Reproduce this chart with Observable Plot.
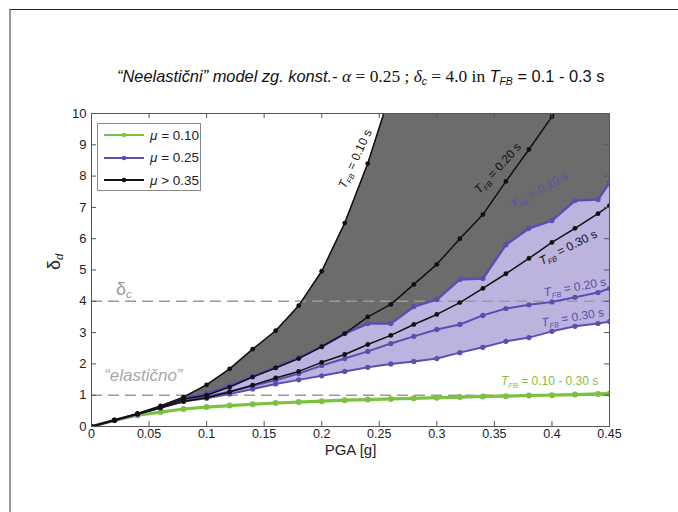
<!DOCTYPE html>
<html>
<head>
<meta charset="utf-8">
<script src="https://cdn.jsdelivr.net/npm/d3@7"></script>
<script src="https://cdn.jsdelivr.net/npm/@observablehq/plot@0.6"></script>
<style>
  body { margin: 0; background: #fff; width: 678px; height: 512px; position: relative; overflow: hidden; font-family: "Liberation Sans", Arial, sans-serif; }
  #border { position: absolute; left: 9px; top: 9px; width: 669px; height: 503px; border-top: 1.5px solid #222; border-left: 2px solid #999; box-sizing: border-box; z-index: 5; pointer-events: none; }
  #title { position: absolute; left: 117px; top: 66px; font-size: 16.4px; white-space: nowrap; color: #111; }
  #title .s { font-family: "Liberation Sans", Arial, sans-serif; }
  #title .m { font-family: "Liberation Serif", "Times New Roman", serif; font-size: 17.4px; }
  #title sub { font-size: 10.5px; font-style: italic; font-family: "Liberation Sans", Arial, sans-serif; vertical-align: -3px; }
  #chart { position: absolute; left: 0; top: 100px; }
  #legend { position: absolute; left: 97px; top: 123px; width: 104px; height: 68px; border: 1px solid #888; background: #fff; box-sizing: border-box; font-size: 13.5px; color: #222; }
  #legend .row { position: absolute; left: 6px; height: 16px; display: flex; align-items: center; }
  #legend svg { margin-right: 6px; }
</style>
</head>
<body>
<div id="border"></div>
<div id="title"><i class="s">“Neelastični” model zg. konst.-</i> <span class="m"><i>α</i> = 0.25 ; <i>δ</i></span><sub>c</sub><span class="m"> = 4.0 in </span><i class="s">T</i><sub>FB</sub><span class="s"> = 0.1 - 0.3 s</span></div>
<div id="chart"></div>
<div id="legend"></div>
<script>
const pga = [0, 0.02, 0.04, 0.06, 0.08, 0.10, 0.12, 0.14, 0.16, 0.18, 0.20, 0.22, 0.24, 0.26, 0.28, 0.30, 0.32, 0.34, 0.36, 0.38, 0.40, 0.42, 0.44, 0.45];
// mu > 0.35 (black)
const blackT10 = [0, 0.2, 0.41, 0.66, 0.94, 1.33, 1.84, 2.47, 3.06, 3.86, 4.96, 6.5, 8.4, 10.7, null, null, null, null, null, null, null, null, null, null];
const blackT20 = [0, 0.2, 0.4, 0.62, 0.88, 1.0, 1.26, 1.58, 1.87, 2.17, 2.55, 2.97, 3.5, 3.9, 4.54, 5.18, 6.0, 6.77, 7.83, 8.85, 9.9, 11.0, null, null];
const blackT30 = [0, 0.2, 0.4, 0.6, 0.8, 0.92, 1.1, 1.32, 1.55, 1.76, 2.05, 2.3, 2.62, 2.91, 3.26, 3.58, 3.96, 4.41, 4.88, 5.37, 5.88, 6.33, 6.8, 7.06];
// mu = 0.25 (purple)
const purpleT10 = [0, 0.2, 0.4, 0.62, 0.9, 1.05, 1.3, 1.6, 1.9, 2.2, 2.55, 2.97, 3.29, 3.29, 3.83, 4.06, 4.7, 4.73, 5.81, 6.33, 6.58, 7.22, 7.25, 7.8];
const purpleT20 = [0, 0.2, 0.4, 0.6, 0.84, 0.95, 1.12, 1.3, 1.48, 1.69, 1.95, 2.17, 2.4, 2.65, 2.88, 3.1, 3.26, 3.55, 3.77, 3.89, 3.98, 4.13, 4.28, 4.41];
const purpleT30 = [0, 0.2, 0.4, 0.6, 0.8, 0.9, 1.04, 1.2, 1.36, 1.49, 1.62, 1.76, 1.89, 2.0, 2.08, 2.17, 2.36, 2.53, 2.72, 2.84, 3.04, 3.2, 3.29, 3.35];
// mu = 0.10 (green), T_FB = 0.10 - 0.30 s
const green = [0, 0.2, 0.36, 0.46, 0.56, 0.62, 0.67, 0.71, 0.75, 0.78, 0.81, 0.84, 0.86, 0.88, 0.9, 0.92, 0.94, 0.96, 0.97, 0.99, 1.0, 1.02, 1.04, 1.05];

const xTicks = [0, 0.05, 0.1, 0.15, 0.2, 0.25, 0.3, 0.35, 0.4, 0.45];
const yTicks = [0, 1, 2, 3, 4, 5, 6, 7, 8, 9, 10];
const refLines = [1, 4];
const yMax = 10;

const legendItems = [
  {label: "μ = 0.10", color: "#7dc142"},
  {label: "μ = 0.25", color: "#5a4fb0"},
  {label: "μ > 0.35", color: "#111111"}
];

const curveLabels = [
  {text: "T|FB| = 0.10 s", x: 0.229, y: 8.55, rotate: -65, color: "#111"},
  {text: "T|FB| = 0.20 s", x: 0.353, y: 8.25, rotate: -48, color: "#111"},
  {text: "T|FB| = 0.10 s", x: 0.389, y: 7.55, rotate: -29, color: "#5a4fb0"},
  {text: "T|FB| = 0.30 s", x: 0.414, y: 5.72, rotate: -27, color: "#111"},
  {text: "T|FB| = 0.20 s", x: 0.42, y: 4.45, rotate: -10, color: "#5a4fb0"},
  {text: "T|FB| = 0.30 s", x: 0.418, y: 3.48, rotate: -10, color: "#5a4fb0"},
  {text: "T|FB| = 0.10 - 0.30 s", x: 0.398, y: 1.45, rotate: 0, color: "#7dc142"}
];

const series = (vals) => pga.map((x, i) => ({x, y: vals[i]})).filter(d => d.y != null);
const grayBand = pga.map((x, i) => ({x, y1: blackT30[i], y2: blackT10[i] ?? yMax}));
const purpleBand = pga.map((x, i) => ({x, y1: purpleT30[i], y2: purpleT10[i]}));

const W = 678, H = 412, mL = 91, mR = 69, mT = 13, mB = 86;
const innerH = H - mT - mB, innerW = W - mL - mR;

const purple = "#5a4fb0", black = "#111", greenC = "#7dc142";

const lineMarks = [];
for (const [vals, color, sw, r] of [
  [green, greenC, 3.2, 3],
  [purpleT30, purple, 2, 2.6],
  [purpleT20, purple, 2, 2.6],
  [purpleT10, purple, 2.6, 2.6],
  [blackT30, black, 1.5, 2.4],
  [blackT20, black, 1.5, 2.4],
  [blackT10, black, 1.5, 2.4]
]) {
  lineMarks.push(Plot.line(series(vals), {x: "x", y: "y", stroke: color, strokeWidth: sw, clip: true}));
  lineMarks.push(Plot.dot(series(vals), {x: "x", y: "y", r, fill: color, stroke: "none", clip: true}));
}

const chart = Plot.plot({
  width: W, height: H,
  marginLeft: mL, marginRight: mR, marginTop: mT, marginBottom: mB,
  style: {fontFamily: "Liberation Sans, Arial, sans-serif", fontSize: "12px", color: "#222", background: "transparent"},
  x: {domain: [0, 0.45]},
  y: {domain: [0, yMax]},
  marks: [
    Plot.areaY(grayBand, {x: "x", y1: "y1", y2: "y2", fill: "#6c6c6c", clip: true}),
    Plot.areaY(purpleBand, {x: "x", y1: "y1", y2: "y2", fill: "#bcb4df", clip: true}),
    Plot.ruleY(refLines, {stroke: "#9a9a9a", strokeWidth: 1.5, strokeDasharray: "11,6"}),
    ...lineMarks,
    Plot.text(curveLabels, {x: "x", y: "y", text: "text", rotate: "rotate", fill: "color", fontSize: 12}),
    Plot.text(["δ|c|"], {x: 0.028, y: 4.4, text: d => d, fill: "#9a9a9a", fontSize: 18}),
    Plot.text(["“elastično”"], {x: 0.045, y: 1.62, text: d => d, fill: "#a8a8a8", fontSize: 17, fontStyle: "italic"}),
    Plot.frame({stroke: "#555"}),
    Plot.tickX(xTicks, {x: d => d, insetTop: innerH - 5, stroke: "#555"}),
    Plot.tickX(xTicks, {x: d => d, insetBottom: innerH - 5, stroke: "#555"}),
    Plot.tickY(yTicks, {y: d => d, insetRight: innerW - 5, stroke: "#555"}),
    Plot.tickY(yTicks, {y: d => d, insetLeft: innerW - 5, stroke: "#555"}),
    Plot.axisX(xTicks, {tickSize: 0, tickPadding: 3, tickFormat: d => String(+d.toFixed(2)), label: null, fontSize: 12.5}),
    Plot.axisY(yTicks, {tickSize: 0, tickPadding: 5, label: null, fontSize: 13}),
    Plot.text(["PGA [g]"], {frameAnchor: "bottom", dy: 28, text: d => d, fontSize: 15, fill: "#222"}),
    Plot.text(["δ|d|"], {frameAnchor: "left", dx: -37, rotate: -90, text: d => d, fontSize: 18, fill: "#222"})
  ]
});

// subscripts: "A|sub|rest"
chart.querySelectorAll("text").forEach(t => {
  const s = t.textContent;
  if (!s.includes("|") || t.querySelector("tspan")) return;
  const [a, b, c] = s.split("|");
  t.textContent = "";
  const ns = "http://www.w3.org/2000/svg";
  const t1 = document.createElementNS(ns, "tspan");
  t1.textContent = a;
  if (a === "T") t1.setAttribute("font-style", "italic");
  const t2 = document.createElementNS(ns, "tspan");
  t2.textContent = b;
  t2.setAttribute("font-size", "0.62em");
  t2.setAttribute("font-style", "italic");
  t2.setAttribute("dy", "3");
  t.appendChild(t1); t.appendChild(t2);
  if (c) {
    const t3 = document.createElementNS(ns, "tspan");
    t3.textContent = c;
    t3.setAttribute("dy", "-3");
    t.appendChild(t3);
  }
});

document.getElementById("chart").appendChild(chart);

const legend = document.getElementById("legend");
legendItems.forEach((d, i) => {
  const row = document.createElement("div");
  row.className = "row";
  row.style.top = (3 + i * 22.5) + "px";
  row.innerHTML = `<svg width="40" height="10"><line x1="0" x2="40" y1="5" y2="5" stroke="${d.color}" stroke-width="1.8"/><circle cx="20" cy="5" r="2.3" fill="${d.color}"/></svg><span><i>μ</i>${d.label.slice(1)}</span>`;
  legend.appendChild(row);
});
</script>
</body>
</html>
